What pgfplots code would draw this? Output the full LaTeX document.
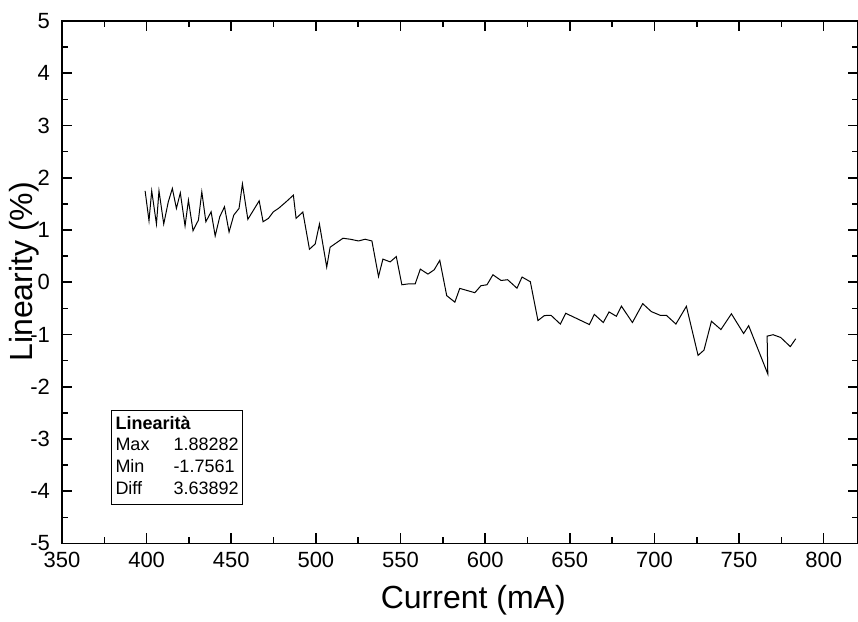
\documentclass[border=0pt]{standalone}
\usepackage{fontspec}
\setmainfont{Liberation Sans}
\usepackage{pgfplots}
\pgfplotsset{compat=1.18}
\begin{document}
\begin{tikzpicture}
\begin{axis}[
  name=ax,
  scale only axis,
  width=397.75pt, height=261.25pt,
  xmin=350, xmax=820, ymin=-5, ymax=5,
  xtick={350,400,...,800},
  ytick={-5,-4,...,5},
  minor x tick num=1, minor y tick num=1,
  tick align=inside,
  major tick length=5pt, minor tick length=3pt,
  axis line style={line width=0.9pt},
  every tick/.style={black, line width=0.8pt},
  tick label style={font=\fontsize{11}{13}\selectfont},
  /pgf/number format/assume math mode=true,
  yticklabel style={xshift=-2.5pt},
  xticklabel style={yshift=-1pt},
  xlabel={Current (mA)}, ylabel={Linearity (\%)},
  label style={font=\fontsize{16}{19}\selectfont},
  xlabel style={at={(axis description cs:0.517,-0.108)}, anchor=center},
  ylabel style={at={(axis description cs:-0.048,0.52)}, anchor=center, rotate=0},
  clip=false,
]
\addplot[black, line width=0.5pt] table {
x y
399.1 1.749
401.4 1.177
403.0 1.749
405.8 1.114
407.3 1.749
410.1 1.114
412.8 1.539
415.2 1.794
417.6 1.413
419.9 1.710
422.7 1.076
424.7 1.571
427.4 0.987
430.6 1.190
432.6 1.730
435.0 1.158
438.1 1.349
440.5 0.886
443.2 1.253
446.0 1.444
448.7 0.962
451.5 1.286
454.6 1.413
456.6 1.88282
459.8 1.204
466.5 1.558
468.8 1.158
472.0 1.223
474.9 1.349
477.9 1.413
482.4 1.539
486.7 1.667
488.3 1.223
492.3 1.343
496.2 0.632
499.6 0.733
502.1 1.114
506.4 0.290
508.4 0.670
516.0 0.842
520.3 0.823
525.2 0.790
529.1 0.823
533.1 0.790
537.0 0.110
539.6 0.442
543.9 0.390
547.5 0.491
550.8 -0.048
555.3 -0.029
558.7 -0.029
561.7 0.251
566.2 0.156
569.9 0.238
573.2 0.419
577.3 -0.257
582.1 -0.381
585.0 -0.118
593.9 -0.200
597.5 -0.067
601.1 -0.048
604.6 0.143
609.4 0.034
613.3 0.048
618.8 -0.114
621.8 0.099
626.7 0.010
631.2 -0.733
635.0 -0.638
638.9 -0.632
644.4 -0.800
647.6 -0.594
661.6 -0.810
664.5 -0.615
669.8 -0.771
673.2 -0.568
677.5 -0.651
680.5 -0.457
687.0 -0.771
693.1 -0.410
698.2 -0.562
703.5 -0.634
707.1 -0.634
712.7 -0.800
718.9 -0.461
725.8 -1.400
729.3 -1.299
733.7 -0.747
739.3 -0.905
745.5 -0.604
752.7 -0.981
755.7 -0.832
767.0 -1.7561
766.6 -1.032
770.1 -1.004
774.6 -1.057
780.3 -1.232
783.5 -1.082
};
\node[draw=black, line width=0.5pt, anchor=south west, inner sep=2pt,
  font=\fontsize{9}{10.8}\selectfont]
  at (axis description cs:0.0616,0.0737) {%
  \begin{tabular}{@{}l@{\hspace{12pt}}l@{}}
  \multicolumn{2}{@{}l}{\bfseries Linearità}\\
  Max & 1.88282\\
  Min & -1.7561\\
  Diff & 3.63892
  \end{tabular}};
\end{axis}
\pgfresetboundingbox
\path ([xshift=-31pt,yshift=-39.25pt]ax.south west) rectangle ([xshift=0.25pt,yshift=10.5pt]ax.north east);
\end{tikzpicture}
\end{document}
